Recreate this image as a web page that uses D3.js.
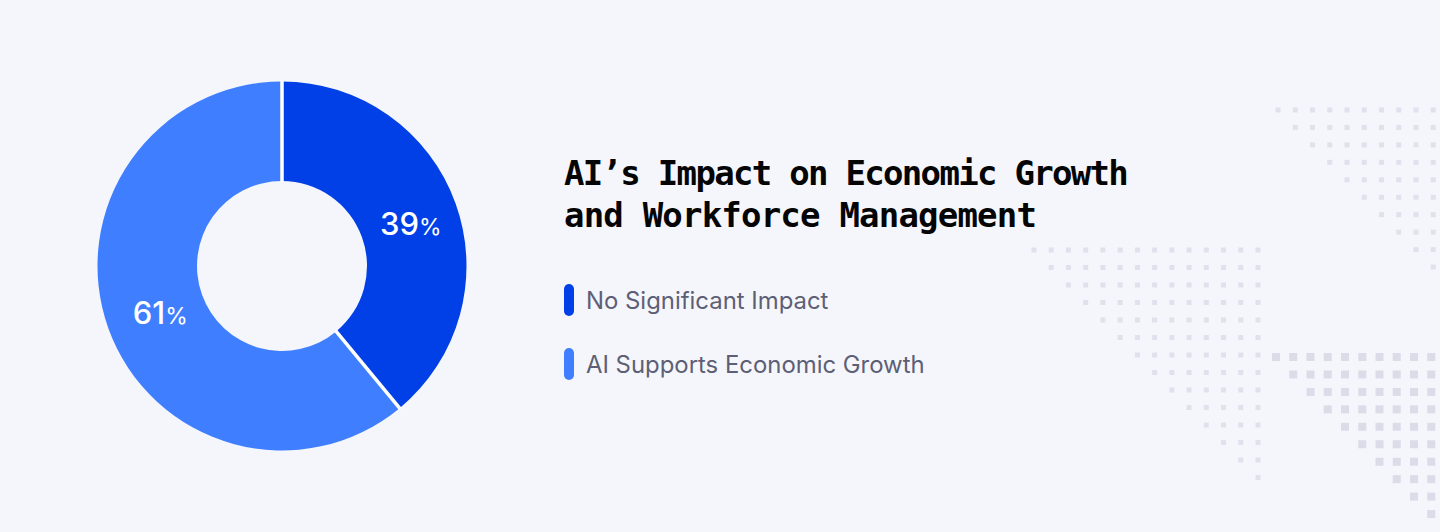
<!DOCTYPE html>
<html><head><meta charset="utf-8">
<script src="https://cdn.jsdelivr.net/npm/d3@7"></script>
<style>html,body{margin:0;padding:0;background:#F5F6FB}svg{display:block}</style>
</head><body><svg id="c" width="1440" height="532"></svg>
<script>
const categories = ["No Significant Impact", "AI Supports Economic Growth"];
const values = [39, 61];
const colors = ["#0040E6", "#3F7FFF"];
const titleLines = ["AI’s Impact on Economic Growth", "and Workforce Management"];

const svg = d3.select("#c");
const bg = svg.append("g");
function dots(x0, y0, n, dx, dy, s, fill) {
  d3.range(n).forEach(r => d3.range(r, n).forEach(c => {
    bg.append("rect").attr("x", x0 + c * dx - s / 2).attr("y", y0 + r * dy - s / 2)
      .attr("width", s).attr("height", s).attr("fill", fill);
  }));
}
dots(1278, 110, 10, 17.25, 17.45, 5, "#E0E1EC");
dots(1034, 250, 14, 17.23, 17.5, 5, "#E0E1EC");
dots(1276, 357, 10, 17.25, 17.45, 8, "#DBDCE8");

const cx = 282, cy = 266, R = 184.5, r0 = 85;
const g = svg.append("g").attr("transform", `translate(${cx},${cy})`);
const pie = d3.pie().sort(null)(values);
const arc = d3.arc().innerRadius(r0).outerRadius(R);
g.selectAll("path").data(pie).join("path").attr("d", arc).attr("fill", (d, i) => colors[i]);
g.selectAll("line").data(pie).join("line")
  .attr("x1", d => d3.pointRadial(d.startAngle, r0 - 1)[0])
  .attr("y1", d => d3.pointRadial(d.startAngle, r0 - 1)[1])
  .attr("x2", d => d3.pointRadial(d.startAngle, R + 1)[0])
  .attr("y2", d => d3.pointRadial(d.startAngle, R + 1)[1])
  .attr("stroke", "#fff").attr("stroke-width", 3.5);
const labelShift = [[2, 15], [5, 12]];
const lab = g.selectAll("text").data(pie).join("text")
  .attr("x", (d, i) => arc.centroid(d)[0] + labelShift[i][0]).attr("y", (d, i) => arc.centroid(d)[1] + labelShift[i][1])
  .attr("text-anchor", "middle").attr("fill", "#fff")
  .attr("font-family", "Inter").attr("font-weight", 500);
lab.append("tspan").attr("font-size", 31).text(d => d.value);
lab.append("tspan").attr("font-size", 23).attr("font-weight", 400).text("%");

const titleSpacing = [-1.7, -0.8];
svg.append("g").selectAll("text").data(titleLines).join("text")
  .attr("x", 564).attr("y", (d, i) => 184.5 + i * 42.5)
  .attr("font-family", "DejaVu Sans Mono").attr("font-weight", 700).attr("font-size", 34)
  .attr("letter-spacing", (d, i) => titleSpacing[i]).attr("fill", "#050505").text(d => d);

const leg = svg.append("g").selectAll("g").data(categories).join("g")
  .attr("transform", (d, i) => `translate(564,${284 + i * 64})`);
leg.append("rect").attr("width", 10).attr("height", 32).attr("rx", 5).attr("fill", (d, i) => colors[i]);
leg.append("text").attr("x", 22).attr("y", 25).attr("font-family", "Inter").attr("font-size", 23.9)
  .attr("fill", "#5D5F76").text(d => d);
</script></body></html>
